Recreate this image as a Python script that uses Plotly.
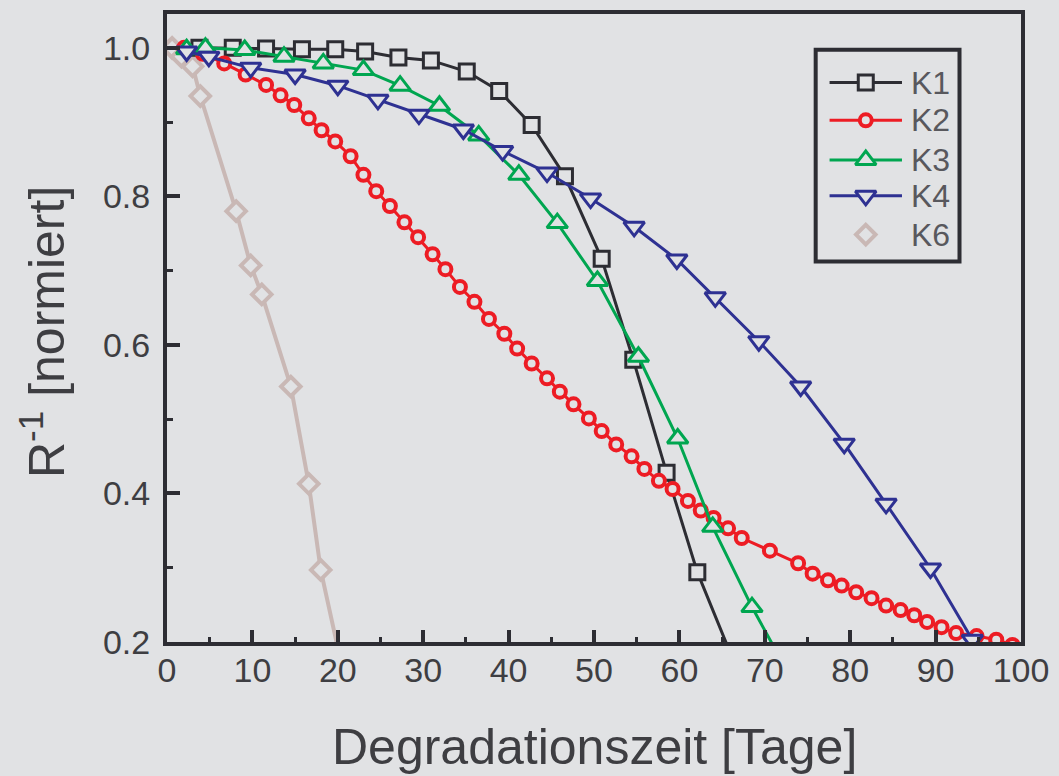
import plotly.graph_objects as go

# ---------------- data ----------------
k1_x = [3.8, 7.7, 11.6, 15.8, 19.7, 23.2, 27.1, 30.9, 35.1, 38.9, 42.7, 46.6, 50.9, 54.6, 58.5, 62.1, 66.5]
k1_y = [1.0, 1.0, 0.999, 0.998, 0.998, 0.995, 0.987, 0.983, 0.968, 0.942, 0.896, 0.827, 0.716, 0.58, 0.428, 0.294, 0.17]

k2_x = [2.0, 4.2, 6.7, 9.2, 11.6, 13.3, 14.9, 16.6, 18.1, 19.7, 21.5, 23.0, 24.5, 26.1, 27.8, 29.4,
        31.1, 32.6, 34.3, 36.0, 37.7, 39.5, 41.0, 42.7, 44.5, 46.0, 47.6, 49.4, 50.9, 52.6, 54.4,
        55.9, 57.6, 59.2, 61.0, 62.5, 64.0, 65.7, 67.3, 70.6, 73.9, 75.6, 77.4, 79.0, 80.7, 82.5,
        84.2, 85.9, 87.5, 89.0, 90.7, 92.4, 94.8, 97.1, 99.0]
k2_y = [1.0, 0.992, 0.979, 0.964, 0.950, 0.936, 0.923, 0.905, 0.889, 0.874, 0.854, 0.829, 0.807, 0.787,
        0.765, 0.745, 0.722, 0.702, 0.678, 0.658, 0.635, 0.615, 0.595, 0.575, 0.555, 0.537, 0.520,
        0.501, 0.484, 0.466, 0.450, 0.433, 0.417, 0.406, 0.390, 0.377, 0.367, 0.353, 0.340, 0.323,
        0.306, 0.292, 0.283, 0.276, 0.267, 0.259, 0.249, 0.243, 0.236, 0.227, 0.220, 0.212, 0.208,
        0.203, 0.196]

k3_x = [2.3, 4.5, 9.1, 13.7, 18.3, 23.0, 27.3, 31.9, 36.5, 41.2, 45.7, 50.4, 55.2, 59.8, 63.9, 68.5, 72.9]
k3_y = [0.998, 1.0, 0.997, 0.988, 0.979, 0.970, 0.949, 0.922, 0.882, 0.829, 0.764, 0.686, 0.584,
        0.474, 0.355, 0.247, 0.155]

k4_x = [2.3, 4.9, 9.8, 15.0, 20.0, 24.7, 29.5, 34.7, 39.3, 44.5, 49.6, 54.7, 59.7, 64.2, 69.3, 74.2,
        79.3, 84.2, 89.4, 94.3]
k4_y = [0.995, 0.988, 0.973, 0.964, 0.949, 0.930, 0.910, 0.890, 0.861, 0.832, 0.797, 0.759, 0.715,
        0.664, 0.605, 0.544, 0.467, 0.386, 0.299, 0.203]

k6_x = [0.6, 1.7, 3.0, 3.9, 8.1, 9.8, 11.1, 14.5, 16.6, 18.0, 20.8]
k6_y = [1.0, 0.988, 0.975, 0.935, 0.780, 0.707, 0.668, 0.544, 0.413, 0.297, 0.15]

series_names = ["K1", "K2", "K3", "K4", "K6"]
x_ticks = [0, 10, 20, 30, 40, 50, 60, 70, 80, 90, 100]
y_ticks = [0.2, 0.4, 0.6, 0.8, 1.0]

# ---------------- style ----------------
BG = "#e1e2e4"
AX = "#2d2d33"
TXT = "#3e3e42"
FONT = "Liberation Sans, Arial, sans-serif"
colors = {"K1": "#2d2d33", "K2": "#ed1c24", "K3": "#00a650", "K4": "#2e3192", "K6": "#c9b8b5"}
symbols = {"K1": "square", "K2": "circle", "K3": "triangle-up", "K4": "triangle-down", "K6": "diamond"}
msize = {"K1": 15, "K2": 12, "K3": 18, "K4": 18, "K6": 15}
mlw = {"K1": 3, "K2": 4, "K3": 3, "K4": 3, "K6": 4}
lw = {"K1": 3, "K2": 3, "K3": 3, "K4": 3, "K6": 4}

data = {"K1": (k1_x, k1_y), "K2": (k2_x, k2_y), "K3": (k3_x, k3_y), "K4": (k4_x, k4_y), "K6": (k6_x, k6_y)}

fig = go.Figure()
for name in ["K6", "K1", "K2", "K3", "K4"]:
    xs, ys = data[name]
    fig.add_trace(go.Scatter(
        x=xs, y=ys, mode="lines+markers", name=name, showlegend=False,
        line=dict(color=colors[name], width=lw[name]),
        marker=dict(symbol=symbols[name], size=msize[name], color=BG,
                    line=dict(color=colors[name], width=mlw[name])),
    ))

# ---------------- manual legend (overlay axes in paper-like 0..1 space) ----------------
W, H = 1059, 776
L, R, T, B = 167, 31, 10, 134
pw, ph = W - L - R, H - T - B


def px2x(px):
    return (px - L) / pw


def py2y(py):
    return (H - B - py) / ph


leg_rows = [79, 117, 157, 193, 232]
for name, row in zip(series_names, leg_rows):
    yy = py2y(row)
    if name != "K6":
        fig.add_trace(go.Scatter(
            x=[px2x(835), px2x(908)], y=[yy, yy], mode="lines", xaxis="x2", yaxis="y2",
            showlegend=False, hoverinfo="skip",
            line=dict(color=colors[name], width=lw[name])))
    fig.add_trace(go.Scatter(
        x=[px2x(871.5)], y=[yy], mode="markers", xaxis="x2", yaxis="y2",
        showlegend=False, hoverinfo="skip",
        marker=dict(symbol=symbols[name], size=msize[name], color=BG,
                    line=dict(color=colors[name], width=mlw[name]))))
    fig.add_annotation(x=px2x(915), y=yy, xref="paper", yref="paper", text=name,
                       showarrow=False, xanchor="left", yanchor="middle",
                       font=dict(family=FONT, size=32, color="#58585d"))

fig.add_shape(type="rect", xref="paper", yref="paper",
              x0=px2x(821), x1=px2x(966), y0=py2y(259), y1=py2y(46),
              line=dict(color=AX, width=4), fillcolor="rgba(0,0,0,0)", layer="above")

# axis titles
fig.add_annotation(x=0.5, y=py2y(748), xref="paper", yref="paper",
                   text="Degradationszeit [Tage]", showarrow=False,
                   xanchor="center", yanchor="middle",
                   font=dict(family=FONT, size=50, color=TXT))
fig.add_annotation(x=px2x(42), y=py2y(330), xref="paper", yref="paper",
                   text="R<sup>-1</sup> [normiert]", showarrow=False, textangle=-90,
                   xanchor="center", yanchor="middle",
                   font=dict(family=FONT, size=50, color=TXT))

fig.update_layout(
    width=W, height=H,
    margin=dict(l=L, r=R, t=T, b=B, pad=0),
    paper_bgcolor=BG, plot_bgcolor=BG,
    showlegend=False,
    font=dict(family=FONT, size=34, color=TXT),
    xaxis=dict(range=[0, 100], tickmode="array", tickvals=x_ticks,
               ticktext=[str(v) for v in x_ticks],
               showgrid=False, zeroline=False, showline=True, linecolor=AX, linewidth=4,
               mirror=True, ticks="inside", ticklen=12, tickwidth=4, tickcolor=AX,
               ticklabelstandoff=-5,
               minor=dict(dtick=5, tick0=0, ticks="inside", ticklen=5, tickwidth=3, tickcolor=AX, showgrid=False),
               tickfont=dict(family=FONT, size=34, color=TXT)),
    yaxis=dict(range=[0.2, 1.0455], tickmode="array", tickvals=y_ticks,
               ticktext=["%.1f" % v for v in y_ticks],
               showgrid=False, zeroline=False, showline=True, linecolor=AX, linewidth=4,
               mirror=True, ticks="inside", ticklen=13, tickwidth=4, tickcolor=AX,
               ticklabelstandoff=6,
               minor=dict(dtick=0.1, tick0=0.2, ticks="inside", ticklen=6, tickwidth=3, tickcolor=AX, showgrid=False),
               tickfont=dict(family=FONT, size=34, color=TXT)),
    xaxis2=dict(range=[0, 1], overlaying="x", visible=False, fixedrange=True),
    yaxis2=dict(range=[0, 1], overlaying="y", visible=False, fixedrange=True),
)

fig.write_html("out.html", config={"displayModeBar": False})

# remove the browser's default page margin so the figure sits at the window origin
with open("out.html", "r", encoding="utf-8") as fh:
    html = fh.read()
html = html.replace("<head>", "<head><style>html,body{margin:0;padding:0;overflow:hidden;background:%s;}</style>" % BG, 1)
with open("out.html", "w", encoding="utf-8") as fh:
    fh.write(html)
